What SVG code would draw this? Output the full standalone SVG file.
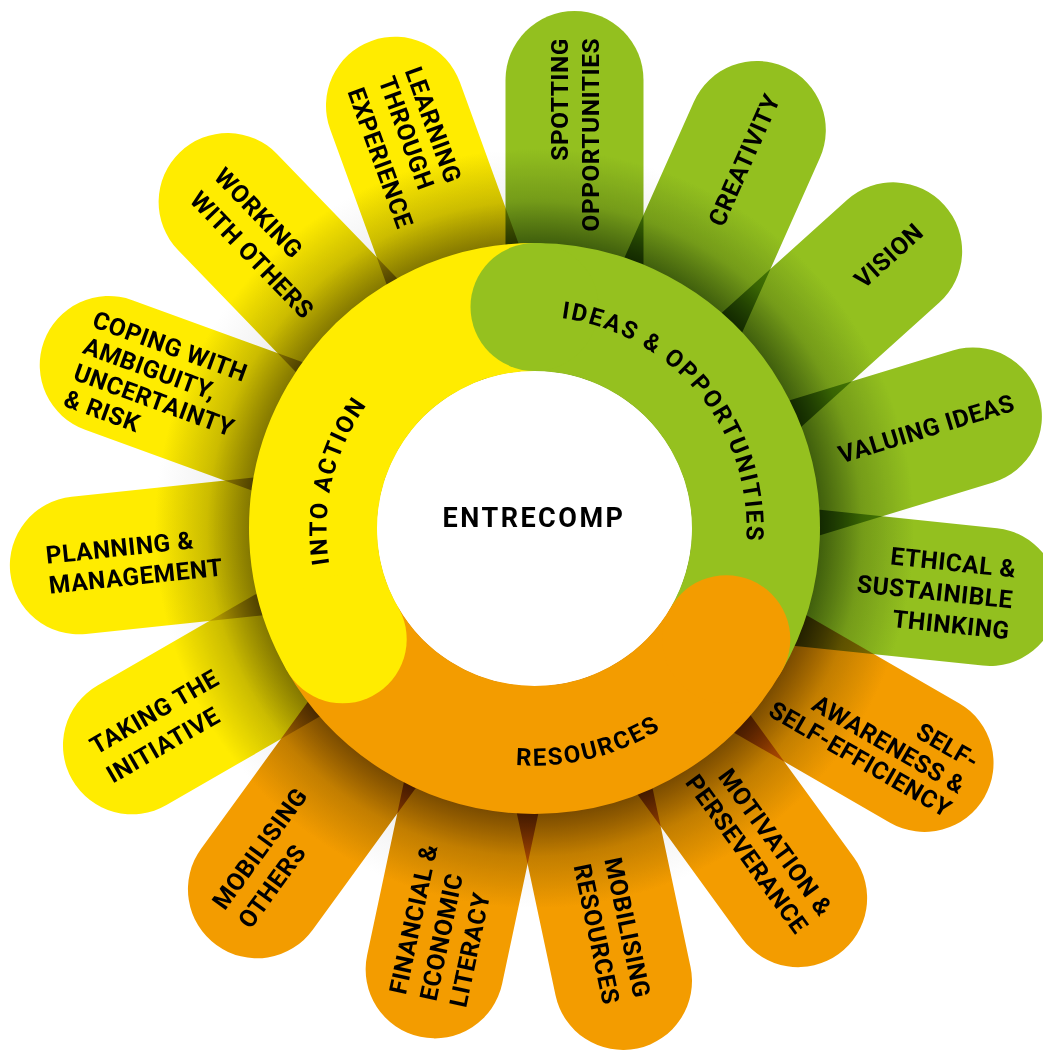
<svg xmlns="http://www.w3.org/2000/svg" width="1043" height="1055" viewBox="0 0 1043 1055">
<defs>
<style>
.p{mix-blend-mode:multiply}
.t{font-family:Roboto,'Liberation Sans',Arial,sans-serif;font-weight:700;font-size:24.5px;fill:#000;letter-spacing:0.5px}
.r{font-family:Roboto,'Liberation Sans',Arial,sans-serif;font-weight:700;font-size:24px;fill:#000;letter-spacing:2px}
</style>
<radialGradient id="gG" gradientUnits="userSpaceOnUse" cx="534.5" cy="528.5" r="520">
<stop offset="0.55" stop-color="#4b6f0e"/><stop offset="0.63" stop-color="#7aa31a"/><stop offset="0.73" stop-color="#93c01f"/></radialGradient>
<radialGradient id="gY" gradientUnits="userSpaceOnUse" cx="534.5" cy="528.5" r="520">
<stop offset="0.55" stop-color="#9a8c00"/><stop offset="0.63" stop-color="#d6c600"/><stop offset="0.73" stop-color="#ffec00"/></radialGradient>
<radialGradient id="gO" gradientUnits="userSpaceOnUse" cx="534.5" cy="528.5" r="520">
<stop offset="0.55" stop-color="#8f5800"/><stop offset="0.63" stop-color="#cc8400"/><stop offset="0.73" stop-color="#f39c00"/></radialGradient>
<radialGradient id="sh" gradientUnits="userSpaceOnUse" cx="534.5" cy="528.5" r="400">
<stop offset="0.71" stop-color="#dcdcdc"/><stop offset="0.82" stop-color="#f3f3f3"/><stop offset="0.95" stop-color="#ffffff"/></radialGradient>
<path id="arcIdeas" d="M399.6,364.9 A212,212 0 0 1 669.4,692.1"/>
<path id="arcAction" d="M485,734.6 A212,212 0 0 1 584,322.4"/>
<path id="arcRes" d="M304.5,585.8 A237,237 0 0 0 764.5,471.2"/>
</defs>
<rect width="1043" height="1055" fill="#fff"/>
<circle cx="534.5" cy="528.5" r="400" fill="url(#sh)"/>

<g id="petals">
<g id="spotting-opportunities">
<rect class="p" x="505.5" y="11" width="138" height="517.5" rx="69" fill="url(#gG)" transform="rotate(0 534.5 528.5)"/>
<g transform="translate(574.5,80) rotate(-90)"><text class="t" text-anchor="end" x="42" y="-6.5">SPOTTING</text><text class="t" text-anchor="end" x="42" y="24.5">OPPORTUNITIES</text></g>
</g>
<g id="creativity">
<rect class="p" x="506.5" y="5" width="138" height="523.5" rx="69" fill="url(#gG)" transform="rotate(24 534.5 528.5)"/>
<g transform="translate(757,130) rotate(-66)"><text class="t" text-anchor="end" x="38" y="9">CREATIVITY</text></g>
</g>
<g id="vision">
<rect class="p" x="499.5" y="7.5" width="138" height="521" rx="69" fill="url(#gG)" transform="rotate(48 534.5 528.5)"/>
<g transform="translate(893,251) rotate(-42)"><text class="t" text-anchor="end" x="35" y="9">VISION</text></g>
</g>
<g id="valuing-ideas">
<rect class="p" x="486.5" y="7.5" width="138" height="521" rx="69" fill="url(#gG)" transform="rotate(73 534.5 528.5)"/>
<g transform="translate(973,416) rotate(-17)"><text class="t" text-anchor="end" x="43" y="7">VALUING IDEAS</text></g>
</g>
<g id="ethical-sustainable-thinking">
<rect class="p" x="486" y="-0.5" width="138" height="529" rx="69" fill="url(#gG)" transform="rotate(96 534.5 528.5)"/>
<g transform="translate(990,597) rotate(6)"><text class="t" text-anchor="end" x="23" y="-22">ETHICAL &amp;</text><text class="t" text-anchor="end" x="23" y="9">SUSTAINIBLE</text><text class="t" text-anchor="end" x="23" y="40">THINKING</text></g>
</g>
<g id="self-awareness">
<rect class="p" x="473.5" y="4.5" width="138" height="524" rx="69" fill="url(#gO)" transform="rotate(120 534.5 528.5)"/>
<g transform="translate(924,763) rotate(30)"><text class="t" text-anchor="end" x="46" y="-18">SELF-</text><text class="t" text-anchor="end" x="46" y="10">AWARENESS &amp;</text><text class="t" text-anchor="end" x="46" y="37">SELF-EFFICIENCY</text></g>
</g>
<g id="motivation-perseverance">
<rect class="p" x="469.5" y="5.5" width="138" height="523" rx="69" fill="url(#gO)" transform="rotate(144 534.5 528.5)"/>
<g transform="translate(798,898) rotate(54)"><text class="t" text-anchor="end" x="29" y="-6">MOTIVATION &amp;</text><text class="t" text-anchor="end" x="29" y="24">PERSEVERANCE</text></g>
</g>
<g id="mobilising-resources">
<rect class="p" x="473" y="-1.5" width="138" height="530" rx="69" fill="url(#gO)" transform="rotate(168 534.5 528.5)"/>
<g transform="translate(623,981) rotate(78)"><text class="t" text-anchor="end" x="20" y="-7">MOBILISING</text><text class="t" text-anchor="end" x="20" y="24.5">RESOURCES</text></g>
</g>
<g id="financial-economic-literacy">
<rect class="p" x="471.5" y="7.5" width="138" height="521" rx="69" fill="url(#gO)" transform="rotate(192 534.5 528.5)"/>
<g transform="translate(434.5,969) rotate(282)"><text class="t" x="-32" y="-22.5">FINANCIAL &amp;</text><text class="t" x="-32" y="8.5">ECONOMIC</text><text class="t" x="-32" y="39">LITERACY</text></g>
</g>
<g id="mobilising-others">
<rect class="p" x="478" y="4.5" width="138" height="524" rx="69" fill="url(#gO)" transform="rotate(216 534.5 528.5)"/>
<g transform="translate(257,889) rotate(306)"><text class="t" x="-37" y="-13">MOBILISING</text><text class="t" x="-37" y="19">OTHERS</text></g>
</g>
<g id="taking-the-initiative">
<rect class="p" x="479" y="2.5" width="138" height="526" rx="69" fill="url(#gY)" transform="rotate(240 534.5 528.5)"/>
<g transform="translate(132,745) rotate(330)"><text class="t" x="-36" y="-9">TAKING THE</text><text class="t" x="-36" y="24">INITIATIVE</text></g>
</g>
<g id="planning-management">
<rect class="p" x="476.5" y="2.5" width="138" height="526" rx="69" fill="url(#gY)" transform="rotate(264 534.5 528.5)"/>
<g transform="translate(79,565) rotate(354)"><text class="t" x="-32" y="-4.5">PLANNING &amp;</text><text class="t" x="-32" y="25.5">MANAGEMENT</text></g>
</g>
<g id="coping-with-ambiguity">
<rect class="p" x="473.5" y="3.5" width="138" height="525" rx="69" fill="url(#gY)" transform="rotate(290 534.5 528.5)"/>
<g transform="translate(109,365) rotate(20)"><text class="t" x="-30" y="-30">COPING WITH</text><text class="t" x="-30" y="-2">AMBIGUITY,</text><text class="t" x="-30" y="26">UNCERTAINTY</text><text class="t" x="-30" y="54">&amp; RISK</text></g>
</g>
<g id="working-with-others">
<rect class="p" x="471.5" y="11.5" width="138" height="517" rx="69" fill="url(#gY)" transform="rotate(316 534.5 528.5)"/>
<g transform="translate(228,202) rotate(46)"><text class="t" x="-28" y="-6">WORKING</text><text class="t" x="-28" y="28">WITH OTHERS</text></g>
</g>
<g id="learning-through-experience">
<rect class="p" x="479" y="14.5" width="138" height="514" rx="69" fill="url(#gY)" transform="rotate(340 534.5 528.5)"/>
<g transform="translate(395,106) rotate(70)"><text class="t" x="-30" y="-21">LEARNING</text><text class="t" x="-30" y="7">THROUGH</text><text class="t" x="-30" y="40">EXPERIENCE</text></g>
</g>
</g>

<g id="ring">
<circle cx="534.5" cy="528.5" r="158" fill="#fff"/>
<g id="ideas-opportunities">
<path d="M534.5,307 A221.5,221.5 0 0 1 726.3,639.25" fill="none" stroke="#95c11f" stroke-width="128"/>
</g>
<g id="resources">
<path d="M726.3,639.25 A221.5,221.5 0 0 1 342.7,639.25" fill="none" stroke="#f39c00" stroke-width="128"/>
</g>
<g id="into-action">
<path d="M342.7,639.25 A221.5,221.5 0 0 1 534.5,307" fill="none" stroke="#ffec00" stroke-width="128"/>
</g>
<circle cx="534.5" cy="307" r="64" fill="#95c11f"/>
<circle cx="726.3" cy="639.25" r="64" fill="#f39c00"/>
<circle cx="342.7" cy="639.25" r="64" fill="#ffec00"/>
<text class="r"><textPath href="#arcIdeas" startOffset="50%" text-anchor="middle">IDEAS &amp; OPPORTUNITIES</textPath></text>
<text class="r"><textPath href="#arcAction" startOffset="50%" text-anchor="middle">INTO ACTION</textPath></text>
<text class="r"><textPath href="#arcRes" startOffset="50%" text-anchor="middle">RESOURCES</textPath></text>
</g>

<g id="entrecomp">
<text x="534" y="527" text-anchor="middle" style="font-family:Roboto,'Liberation Sans',Arial,sans-serif;font-weight:700;font-size:27px;letter-spacing:2.5px;fill:#000">ENTRECOMP</text>
</g>
</svg>
